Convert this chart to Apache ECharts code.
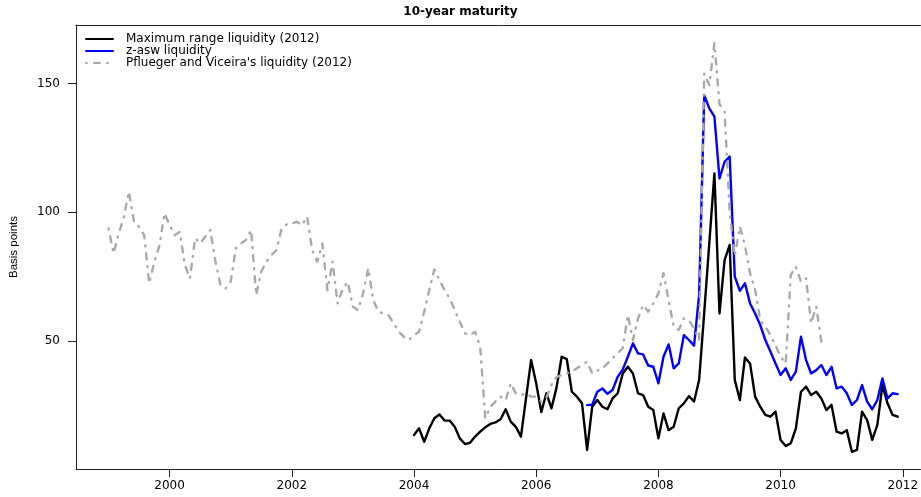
<!DOCTYPE html>
<html>
<head>
<meta charset="utf-8">
<script src="https://cdn.jsdelivr.net/npm/echarts@6/dist/echarts.min.js"></script>
<style>
html,body{margin:0;padding:0;background:#fff;}
#chart{width:921px;height:497px;}
</style>
</head>
<body>
<div id="chart"></div>
<script>
// ---- data (monthly observations) ----
const title = "10-year maturity";
const yAxisName = "Basis points";
const seriesNames = ["Maximum range liquidity (2012)", "z-asw liquidity", "Pflueger and Viceira's liquidity (2012)"];
const xTicks = [2000, 2002, 2004, 2006, 2008, 2010, 2012];
const yTicks = [50, 100, 150];

// Maximum range liquidity: monthly from Jan 2004
const blackStart = [2004, 1];
const blackValues = [
  13.5, 16.1, 10.9, 16.1, 20.0, 21.5, 19.1, 19.1, 16.7, 12.2, 10.0, 10.5,
  12.9, 14.8, 16.5, 17.8, 18.4, 19.6, 23.5, 18.7, 16.7, 12.9, 27.7, 42.6,
  33.6, 22.4, 29.7, 23.9, 32.0, 43.9, 43.0, 30.3, 28.4, 25.8, 7.7, 24.5,
  27.1, 24.5, 23.5, 27.7, 29.7, 37.4, 40.0, 37.4, 29.7, 29.0, 24.5, 23.2,
  12.2, 21.9, 15.4, 16.7, 23.9, 25.8, 28.6, 26.5, 34.9, 61.0, 88.0, 115.1,
  60.7, 81.4, 87.3, 34.9, 27.1, 43.6, 41.3, 28.4, 24.5, 21.3, 20.6, 22.6,
  11.6, 9.2, 10.3, 16.1, 30.3, 32.3, 29.0, 30.3, 27.7, 23.2, 25.2, 14.8,
  14.1, 15.4, 7.0, 7.7, 22.6, 19.3, 11.6, 17.4, 32.9, 25.8, 21.3, 20.6
];

// z-asw liquidity: monthly from Nov 2006
const blueStart = [2006, 11];
const blueValues = [
  25.1, 25.3, 30.3, 31.6, 29.5, 31.0, 36.1, 39.0, 43.9, 49.1, 45.2, 44.8,
  40.5, 40.0, 33.6, 43.9, 48.7, 39.4, 41.3, 52.3, 50.4, 48.2, 68.0, 145.5,
  140.3, 137.1, 113.1, 119.6, 121.6, 75.0, 69.5, 72.4, 64.6, 60.7, 56.2, 50.4,
  45.9, 41.3, 36.8, 39.4, 34.9, 38.1, 51.7, 42.6, 37.4, 38.7, 40.7, 36.8,
  40.0, 31.6, 32.3, 29.7, 25.2, 27.1, 32.9, 26.5, 23.5, 27.1, 35.5, 27.7,
  29.7, 29.4
];

// Pflueger and Viceira's liquidity: monthly from Jan 1999
const grayStart = [1999, 1];
const grayValues = [
  93.7, 84.0, 91.8, 98.0, 108.0, 96.3, 94.4, 91.1, 72.4, 80.8, 87.0, 99.6,
  95.0, 91.1, 92.4, 79.5, 74.3, 89.9, 87.9, 90.5, 93.1, 80.8, 71.7, 70.4,
  73.0, 86.0, 87.9, 89.2, 93.1, 67.9, 76.9, 80.8, 83.4, 85.3, 93.7, 95.3,
  95.7, 96.3, 95.0, 98.3, 85.3, 80.8, 87.9, 69.8, 80.8, 64.6, 70.4, 73.0,
  63.3, 62.0, 68.5, 78.2, 65.9, 61.4, 60.7, 60.0, 57.0, 53.6, 51.7, 50.4,
  52.3, 53.6, 61.4, 69.8, 77.8, 73.7, 69.8, 66.6, 62.0, 57.5, 53.0, 52.3,
  53.6, 47.8, 20.0, 24.5, 26.5, 28.4, 27.0, 33.6, 29.7, 29.0, 29.7, 28.4,
  28.4, 26.5, 28.0, 33.0, 36.0, 36.8, 37.4, 38.1, 39.4, 40.7, 42.0, 37.4,
  38.5, 39.4, 41.3, 43.3, 45.2, 47.2, 60.1, 50.4, 58.8, 64.0, 61.4, 64.6,
  68.5, 76.3, 65.9, 55.6, 54.3, 58.8, 58.1, 54.9, 50.4, 153.9, 149.4, 165.6,
  142.0, 139.0, 100.0, 83.0, 94.4, 87.0, 76.3, 69.8, 58.1, 55.6, 52.3, 48.4,
  43.9, 41.3, 75.6, 78.9, 73.0, 74.3, 56.9, 63.3, 49.7
];

function toPairs(start, values) {
  return values.map(function (v, i) {
    return [start[0] + (start[1] - 1 + i) / 12, v];
  });
}

// axis ranges (R-style 4% padding)
const xMin = 1998.468, xMax = 2012.29;
const yMin = 0.31, yMax = 172.7;

const chart = echarts.init(document.getElementById('chart'), null, {renderer: 'canvas'});
const axisColor = '#222';
const font = 'DejaVu Sans';

chart.setOption({
  animation: false,
  backgroundColor: '#ffffff',
  title: {
    text: title,
    left: 'center',
    top: 6,
    padding: 0,
    textStyle: {fontFamily: font, fontSize: 12, fontWeight: 'bold', color: '#000'}
  },
  legend: {
    orient: 'vertical',
    left: 85,
    top: 33,
    padding: 0,
    itemGap: 0,
    itemWidth: 27,
    itemHeight: 12,
    data: seriesNames,
    itemStyle: {opacity: 0, borderWidth: 0},
    textStyle: {fontFamily: font, fontSize: 12, color: '#000', lineHeight: 12, padding: [0, 0, 0, 8]}
  },
  grid: {left: 73, right: 0, top: 25, bottom: 28, containLabel: false},
  xAxis: [{
    type: 'value',
    position: 'bottom',
    min: xMin, max: xMax,
    splitLine: {show: false},
    axisLine: {show: true, onZero: false, lineStyle: {color: axisColor, width: 1}},
    axisTick: {show: true, customValues: xTicks, length: 8, lineStyle: {color: axisColor}},
    axisLabel: {customValues: xTicks, margin: 11, fontFamily: font, fontSize: 12, color: '#000',
      formatter: function (v) { return String(Math.round(v)); }}
  }, {
    type: 'value',
    position: 'top',
    min: xMin, max: xMax,
    splitLine: {show: false},
    axisLine: {show: true, onZero: false, lineStyle: {color: axisColor, width: 1}},
    axisTick: {show: false},
    axisLabel: {show: false}
  }],
  yAxis: {
    type: 'value',
    min: yMin, max: yMax,
    name: yAxisName,
    nameLocation: 'middle',
    nameGap: 56,
    nameRotate: 90,
    nameTextStyle: {fontFamily: 'Liberation Sans', fontSize: 11.5, color: '#000'},
    splitLine: {show: false},
    axisLine: {show: true, onZero: false, lineStyle: {color: axisColor, width: 1}},
    axisTick: {show: true, customValues: yTicks, length: 8, lineStyle: {color: axisColor}},
    axisLabel: {customValues: yTicks, margin: 16, fontFamily: font, fontSize: 12, color: '#000',
      formatter: function (v) { return String(Math.round(v)); }}
  },
  series: [{
    name: seriesNames[0],
    type: 'line',
    data: toPairs(blackStart, blackValues),
    showSymbol: false, symbol: 'none',
    lineStyle: {color: '#000000', width: 2.4, join: 'round', cap: 'round'},
    itemStyle: {color: '#000000'},
    z: 2
  }, {
    name: seriesNames[1],
    type: 'line',
    data: toPairs(blueStart, blueValues),
    showSymbol: false, symbol: 'none',
    lineStyle: {color: '#0000ff', width: 2.4, join: 'round', cap: 'round'},
    itemStyle: {color: '#0000ff'},
    z: 3
  }, {
    name: seriesNames[2],
    type: 'line',
    data: toPairs(grayStart, grayValues),
    showSymbol: false, symbol: 'none',
    lineStyle: {color: '#a9a9a9', width: 2.4, type: [1, 7, 6, 7], cap: 'round', join: 'round'},
    itemStyle: {color: '#a9a9a9'},
    z: 4
  }]
});
</script>
</body>
</html>
